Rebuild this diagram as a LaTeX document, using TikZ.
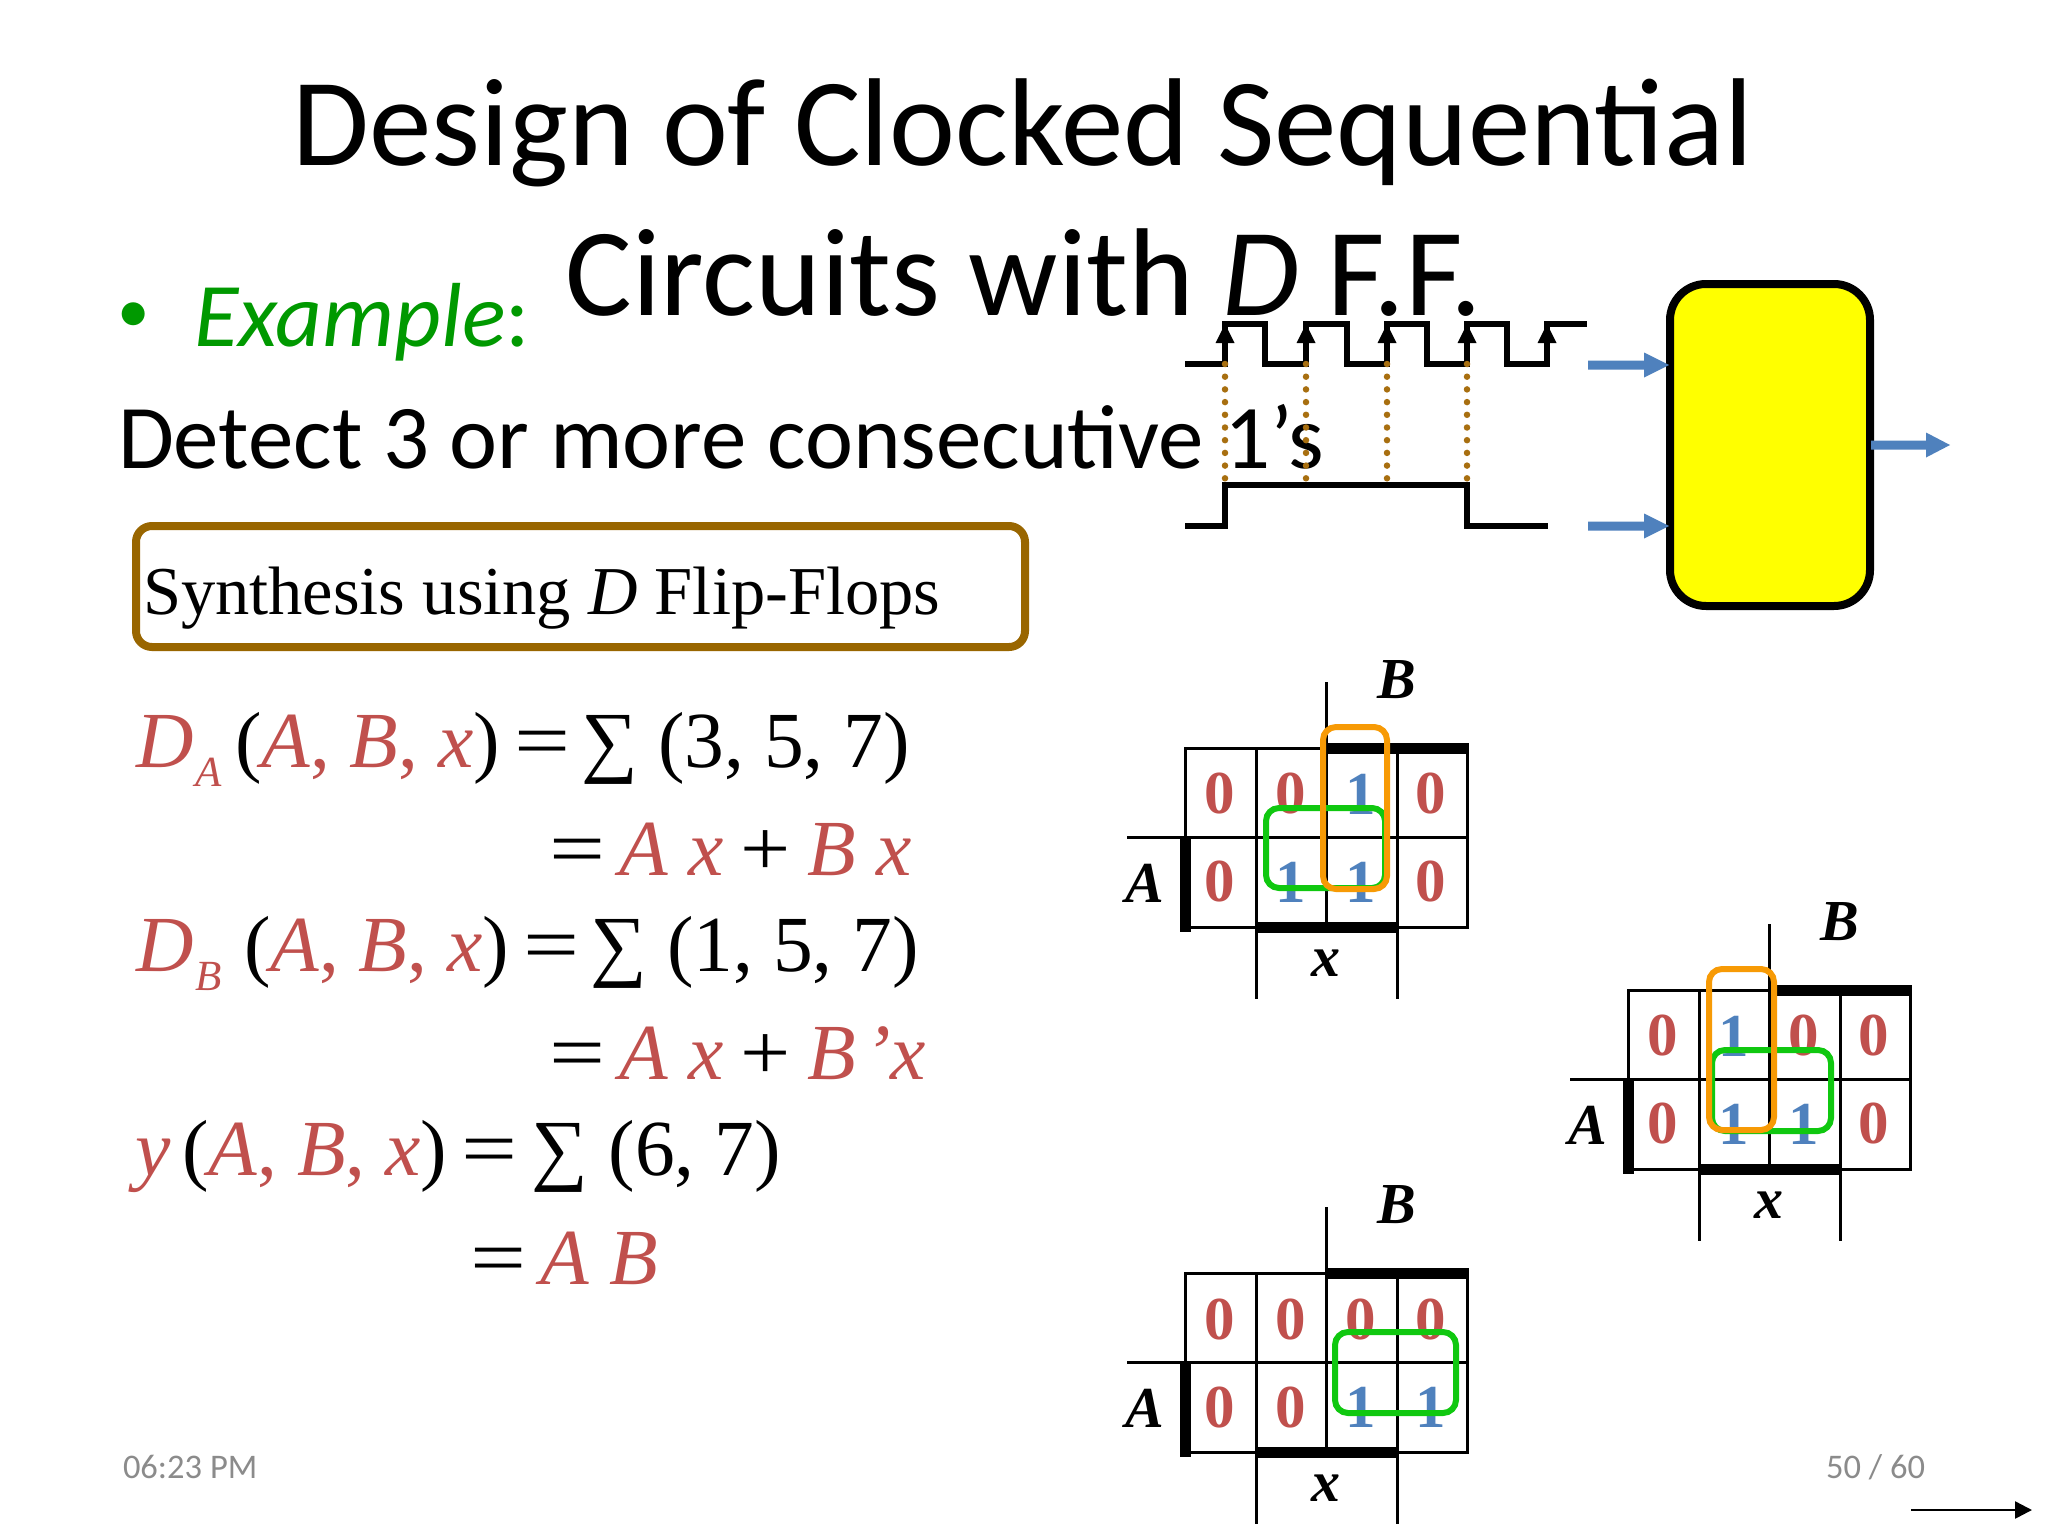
\documentclass[tikz,border=0pt]{standalone}
\usepackage{fontspec}
\setmainfont{Carlito}
\newfontfamily\serif{Liberation Serif}
\usetikzlibrary{arrows.meta}
\definecolor{eqred}{HTML}{C0504D}
\definecolor{digblue}{HTML}{4F81BD}
\definecolor{loopgreen}{HTML}{10C810}
\definecolor{looporange}{HTML}{F79A05}
\definecolor{brownline}{HTML}{996600}
\definecolor{dotbrown}{HTML}{A86F10}
\definecolor{bulgreen}{HTML}{009900}
\definecolor{footgray}{HTML}{8B8B8B}
\definecolor{blockyellow}{HTML}{FFFF00}
\newcommand{\fs}[1]{\fontsize{#1}{#1}\selectfont}
\newcommand{\rd}[1]{\textcolor{eqred}{#1}}
\newcommand{\dgt}[1]{\ifnum#1=0 \textcolor{eqred}{0}\else\textcolor{digblue}{1}\fi}
\newcommand{\eqs}{\kern-5.5pt\scalebox{1.25}[1]{=}\kern-5.5pt}
\newcommand{\pls}{\kern-3pt\scalebox{1.12}[1]{+}\kern-3pt}
\tikzset{
  x=1pt,y=-1pt,
  txt/.style={inner sep=0pt,outer sep=0pt,anchor=base west},
  ctr/.style={inner sep=0pt,outer sep=0pt,anchor=center},
  eqn/.style={txt,font=\serif\fs{79.5}},
  subs/.style={txt,font=\serif\itshape\fs{43},text=eqred},
  thinln/.style={line width=3pt,black},
  thickln/.style={line width=11pt,black},
  wave/.style={line width=6pt,black,line join=miter},
  dotln/.style={line width=6.5pt,dotbrown,line cap=round,dash pattern=on 0pt off 12.7pt},
  glp/.style={line width=6pt,loopgreen,rounded corners=13pt},
  olp/.style={line width=6pt,looporange,rounded corners=13pt},
  mapl/.style={ctr,font=\serif\bfseries\itshape\fs{58}},
  dg/.style={ctr,font=\serif\bfseries\fs{61}},
}
\newcommand{\kmap}[9]{%
\begin{scope}[shift={(#2,#3)}]
 \draw[thinln] (0,0) rectangle (282,179);
 \draw[thinln] (71,0) -- (71,179);
 \draw[thinln] (141,-66) -- (141,179);
 \draw[thinln] (212,0) -- (212,179);
 \draw[thinln] (-58,89) -- (282,89);
 \draw[thinln] (71,179) -- (71,251);
 \draw[thinln] (212,179) -- (212,251);
 \draw[thickln] (141,0) -- (283.5,0);
 \draw[thickln] (0,89) -- (0,184);
 \draw[thickln] (71,179) -- (212,179);
 \node[mapl] (#1B) at (212,-68) {B};
 \node[mapl] (#1A) at (-40,135) {A};
 \node[mapl] (#1x) at (141,215) {x};
 \node[dg] (#1a) at (35,46) {\dgt{#4}};
 \node[dg] (#1b) at (106,46) {\dgt{#5}};
 \node[dg] (#1c) at (176,46) {\dgt{#6}};
 \node[dg] (#1d) at (246,46) {\dgt{#7}};
 \node[dg] (#1e) at (35,134) {\dgt{#8}};
 \node[dg] (#1f) at (106,134) {\dgt{#9}};
\end{scope}}
\newcommand{\kmapb}[5]{%
\begin{scope}[shift={(#2,#3)}]
 \node[dg] (#1g) at (176,134) {\dgt{#4}};
 \node[dg] (#1h) at (246,134) {\dgt{#5}};
\end{scope}}
\begin{document}
\begin{tikzpicture}
\useasboundingbox (0,0) rectangle (2048,1536);
\fill[white] (0,0) rectangle (2048,1536);
% title
\node[txt,font=\fs{125},anchor=base] (t1) at (1023,165) {Design of Clocked Sequential};
\node[txt,font=\fs{125},anchor=base] (t2) at (1024,315) {Circuits with \textit{D} F.F.};
% bullet
\node[txt,font=\fs{65},text=bulgreen] (bul) at (117,332) {•};
\node[txt,font=\fs{91},text=bulgreen] (ex) at (194,346) {\textit{Example}:};
\node[txt,font=\fs{91}] (det) at (118,468) {Detect 3 or more consecutive 1’s};
% synthesis
\draw[line width=8pt,brownline,rounded corners=16pt] (136,526) rectangle (1025,647);
\node[txt,font=\serif\fs{68.5}] (syn) at (143,614) {Synthesis using \textit{D} Flip-Flops};
% equations
\node[eqn] (l1d) at (136,767) {\rd{\textit{D}}};
\node[subs] (l1s) at (195,786) {A};
\node[eqn] (l1) at (235,767) {(\rd{\textit{A}, \textit{B}, \textit{x}}) \eqs{} \kern-3pt∑ (3, 5, 7)};
\node[eqn] (l2) at (555,875) {\eqs{} \rd{\textit{A x}} \pls{} \rd{\textit{B x}}};
\node[eqn] (l3d) at (136,971) {\rd{\textit{D}}};
\node[subs] (l3s) at (195,990) {B};
\node[eqn] (l3) at (244,971) {(\rd{\textit{A}, \textit{B}, \textit{x}}) \eqs{} \kern-3pt∑ (1, 5, 7)};
\node[eqn] (l4) at (555,1079) {\eqs{} \rd{\textit{A x}} \pls{} \rd{\textit{B}\kern8pt\textit{’x}}};
\node[eqn] (l5) at (135,1175) {\rd{\textit{y}}\kern12pt(\rd{\textit{A}, \textit{B}, \textit{x}}) \eqs{} ∑ (6, 7)};
\node[eqn] (l6) at (476,1284) {\eqs{} \rd{\textit{A B}}};
% block
\draw[line width=8pt,black,fill=blockyellow,rounded corners=36pt] (1670,284) rectangle (1870,606);
% waves
\coordinate (c0) at (1185,364); \coordinate (c1) at (1225,364);
\draw[wave] (c0) -- (c1) -- (1225,324) -- (1265,324) -- (1265,364) -- (1306,364) -- (1306,324) -- (1347,324) -- (1347,364) -- (1387,364) -- (1387,324) -- (1427,324) -- (1427,364) -- (1467,364) -- (1467,324) -- (1507,324) -- (1507,364) -- (1547,364) -- (1547,324) -- (1587,324);
\foreach \xx in {1225,1306,1387,1467,1547}
  \fill[black] (\xx-9.5,343) -- (\xx,324) -- (\xx+9.5,343) -- cycle;
\draw[wave] (1185,526) -- (1225,526) -- (1225,485) -- (1467,485) -- (1467,526) -- (1548,526);
\foreach \xx in {1225,1306,1387,1467}
  \draw[dotln] (\xx,364) -- (\xx,485);
% blue arrows
\foreach \yy/\xa/\xb/\xc in {365/1588/1644/1669,526/1588/1644/1669,445/1871/1926/1950}
  \fill[digblue] (\xa,\yy-4.5) -- (\xb,\yy-4.5) -- (\xb,\yy-12.5) -- (\xc,\yy) -- (\xb,\yy+12.5) -- (\xb,\yy+4.5) -- (\xa,\yy+4.5) -- cycle;
% maps
\kmap{m}{1185}{748}{0}{0}{1}{0}{0}{1}
\kmapb{m}{1185}{748}{1}{0}
\kmap{n}{1628}{990}{0}{1}{0}{0}{0}{1}
\kmapb{n}{1628}{990}{1}{0}
\kmap{p}{1185}{1273}{0}{0}{0}{0}{0}{0}
\kmapb{p}{1185}{1273}{1}{1}
\draw[glp] (1266,808) rectangle (1385,888);
\draw[olp] (1323,727) rectangle (1387,889);
\draw[glp] (1712,1050) rectangle (1831,1131);
\draw[olp] (1709,969) rectangle (1774,1130);
\draw[glp] (1335,1332) rectangle (1456,1413);
% footer
\node[txt,font=\fs{34.5},text=footgray] (f1) at (123,1478) {06:23 PM};
\node[txt,font=\fs{34.5},text=footgray,anchor=base east] (f2) at (1925,1478) {50 / 60};
\coordinate (aa) at (1911,1510); \coordinate (ab) at (2032,1510);
\draw[line width=2.5pt,-{Triangle[length=17pt,width=17pt]}] (aa) -- (ab);
\end{tikzpicture}
\end{document}
